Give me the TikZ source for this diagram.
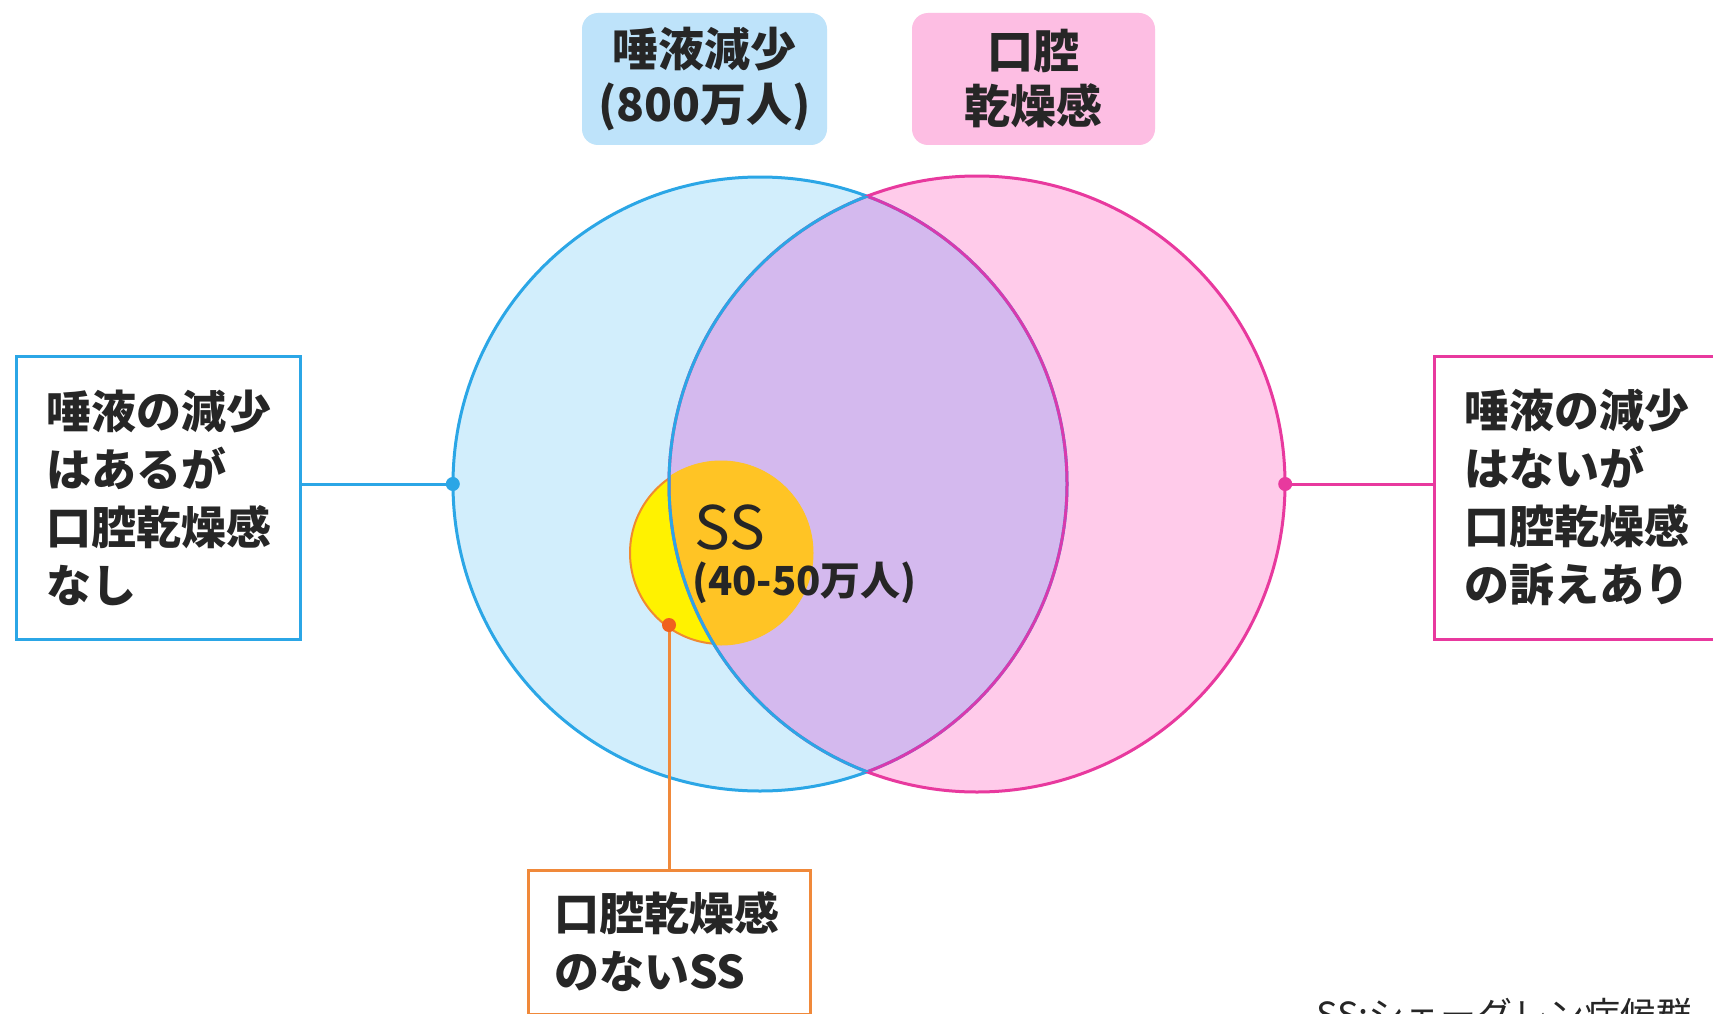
\documentclass[tikz,border=0pt]{standalone}
\usepackage{fontspec}
\setmainfont{Noto Sans CJK JP}
\usetikzlibrary{calc}
\definecolor{bline}{HTML}{2BA6E6}
\definecolor{bfill}{HTML}{D2EEFC}
\definecolor{pline}{HTML}{E8399E}
\definecolor{pfill}{HTML}{FFCBEA}
\definecolor{lav}{HTML}{D4B9EE}
\definecolor{lensr}{HTML}{D83AAE}
\definecolor{ssyel}{HTML}{FFF200}
\definecolor{ssora}{HTML}{FFC425}
\definecolor{ssline}{HTML}{F08A30}
\definecolor{oline}{HTML}{F0893A}
\definecolor{odot}{HTML}{F0601E}
\definecolor{tagb}{HTML}{BEE3FA}
\definecolor{tagp}{HTML}{FDBEE3}
\definecolor{txt}{HTML}{262626}
\begin{document}
\begin{tikzpicture}[x=1pt,y=-1pt,
  big/.style={circle,inner sep=0pt,minimum size=#1},
  tag/.style={rounded corners=16pt,inner sep=0pt,minimum width=245pt,minimum height=132pt,align=center,text=txt,
    font=\fontsize{46}{55}\selectfont\bfseries},
  infobox/.style={draw=#1,line width=3pt,fill=white,inner xsep=30pt,inner ysep=0pt,align=left,text=txt,
    font=\fontsize{45}{58}\selectfont\bfseries},
  conn/.style={line width=3pt,#1},
  ring/.style={line width=3pt,#1}]
\useasboundingbox (0,0) rectangle (1713,1014);
\fill[white] (0,0) rectangle (1713,1014);

% circles
\node[big=614pt,fill=bfill] (bc) at (760,484) {};
\node[big=616pt,fill=pfill] (pc) at (977,484) {};
\begin{scope}
  \clip (760,484) circle[radius=307pt];
  \fill[lav] (977,484) circle[radius=308pt];
\end{scope}

% SS circle
\node[big=182pt,fill=ssyel,draw=ssline,line width=2pt] (ss) at (721,553) {};
\begin{scope}
  \clip (977,484) circle[radius=308pt];
  \fill[ssora] (ss.center) circle[radius=92.5pt];
\end{scope}

% outlines
\draw[ring=bline] (bc.center) circle[radius=307pt];
\draw[ring=pline] (pc.center) circle[radius=308pt];
\begin{scope}
  \clip (977,484) circle[radius=308pt];
  \draw[ring=lensr] (bc.center) circle[radius=307pt];
\end{scope}
\begin{scope}
  \clip (760,484) circle[radius=307pt];
  \draw[ring=bline] (pc.center) circle[radius=308pt];
\end{scope}

% SS text
\node[anchor=west,inner sep=0pt,text=txt,font=\fontsize{60}{60}\selectfont] (sst) at (694,528) {SS};
\node[anchor=west,inner sep=0pt,text=txt,font=\fontsize{40}{40}\selectfont\bfseries] (ssn) at (692,583) {(40-50万人)};

% top tags
\node[tag,fill=tagb] (tb) at (704.5,79) {唾液減少\\(800万人)};
\node[tag,fill=tagp,minimum width=243pt] (tp) at (1033.5,79) {口腔\\乾燥感};

% side boxes
\node[infobox=bline,text width=224pt,minimum height=283pt] (lbox) at (158,497.5)
  {唾液の減少\\はあるが\\口腔乾燥感\\なし};
\node[infobox=pline,text width=220pt,minimum height=283pt] (rbox) at (1574,497.5)
  {唾液の減少\\はないが\\口腔乾燥感\\の訴えあり};
\node[infobox=oline,inner xsep=26pt,text width=230pt,minimum height=144pt] (bbox) at (669,942)
  {口腔乾燥感\\のないSS};

% connectors
\draw[conn=bline] (bc.west -| lbox.east) -- (bc.west);
\fill[bline] (bc.west) circle[radius=7pt];
\draw[conn=pline] (pc.east) -- (pc.east -| rbox.west);
\fill[pline] (pc.east) circle[radius=7pt];
\coordinate (ssdot) at (669,625);
\draw[conn=oline] (bbox.north) -- (ssdot);
\fill[odot] (ssdot) circle[radius=7pt];

% footnote
\node[anchor=base west,inner sep=0pt,text=txt,font=\fontsize{36}{36}\selectfont] (note) at (1316,1028) {SS:シェーグレン症候群};
\end{tikzpicture}
\end{document}
